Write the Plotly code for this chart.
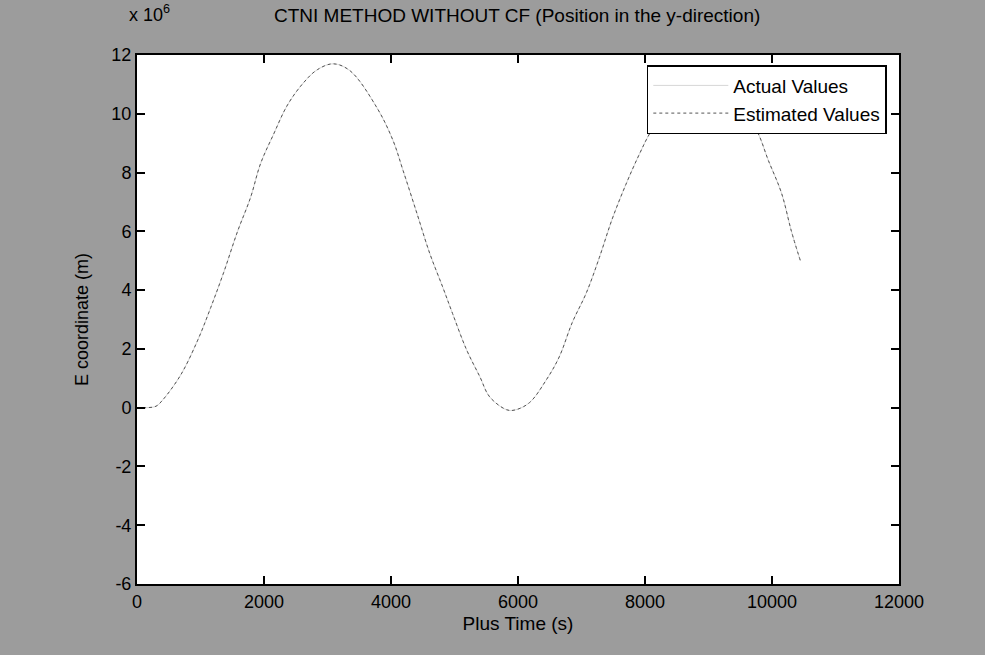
import plotly.graph_objects as go

# Data (x in s, y in units of 10^6 m)
time_s = [0, 150, 300, 408, 690, 957, 1160, 1365, 1584, 1788, 1945, 2150, 2370, 2620,
          2840, 3090, 3357, 3780, 4030, 4190, 4410, 4610, 4815, 4970, 5190, 5400,
          5553, 5820, 5950, 6180, 6447, 6650, 6855, 7075, 7280, 7480, 7700, 7906,
          8094, 8400, 8900, 9400, 9741, 9945, 10150, 10306, 10447]
e_actual = [0.0, 0.0, 0.05, 0.27, 1.12, 2.3, 3.4, 4.6, 6.0, 7.15, 8.3, 9.3, 10.3, 11.05,
            11.5, 11.7, 11.46, 10.2, 9.1, 8.07, 6.6, 5.25, 4.1, 3.2, 1.97, 1.05,
            0.37, -0.07, -0.08, 0.17, 0.95, 1.73, 2.9, 3.9, 5.1, 6.4, 7.6, 8.6,
            9.4, 10.3, 10.9, 10.4, 9.5, 8.4, 7.3, 6.0, 5.0]
e_estimated = list(e_actual)

x_ticks = [0, 2000, 4000, 6000, 8000, 10000, 12000]
x_ticktext = ["0", "2000", "4000", "6000", "8000", "10000", "12000"]
y_ticks = [-6, -4, -2, 0, 2, 4, 6, 8, 10, 12]
y_ticktext = ["-6", "-4", "-2", "0", "2", "4", "6", "8", "10", "12"]

FONT = "Liberation Sans, Arial, sans-serif"
BG = "#9c9c9c"

fig = go.Figure()
fig.add_trace(go.Scatter(
    x=time_s, y=e_actual, mode="lines", name="Actual Values",
    line=dict(color="#d6d6d6", width=1, shape="spline"),
))
fig.add_trace(go.Scatter(
    x=time_s, y=e_estimated, mode="lines", name="Estimated Values",
    line=dict(color="#555555", width=1, dash="dot", shape="spline"),
))

axis_common = dict(
    showline=True, linecolor="black", linewidth=2, mirror="ticks",
    ticks="inside", ticklen=8, tickwidth=1.5, tickcolor="black",
    showgrid=False, zeroline=False,
    tickfont=dict(family=FONT, size=18, color="black"),
)

fig.update_layout(
    width=985, height=655,
    margin=dict(l=137, r=86, t=55, b=71),
    paper_bgcolor=BG,
    plot_bgcolor="white",
    showlegend=True,
    title=dict(
        text="CTNI METHOD WITHOUT CF (Position in the y-direction)",
        x=0.525, xanchor="center", y=0.977, yanchor="middle",
        font=dict(family=FONT, size=19, color="black"),
    ),
    xaxis=dict(
        range=[0, 12000], tickvals=x_ticks, ticktext=x_ticktext,
        title=dict(text="Plus Time (s)", font=dict(family=FONT, size=19, color="black"), standoff=6),
        **axis_common,
    ),
    yaxis=dict(
        range=[-6, 12], tickvals=y_ticks, ticktext=y_ticktext,
        title=dict(text="E coordinate (m)", font=dict(family=FONT, size=18, color="black"), standoff=18),
        **axis_common,
    ),
    legend=dict(
        x=0.984, y=0.981, xanchor="right", yanchor="top",
        bgcolor="white", bordercolor="black", borderwidth=1.5,
        font=dict(family=FONT, size=19, color="black"),
        itemwidth=75, tracegroupgap=0,
    ),
    annotations=[
        dict(text="x 10<sup>6</sup>", x=0, y=1, xref="paper", yref="paper",
             xanchor="left", yanchor="bottom", yshift=28, xshift=-10, showarrow=False,
             font=dict(family=FONT, size=18, color="black")),
    ],
)

fig.write_html(
    "out.html",
    config={"displayModeBar": False},
    post_script=f"document.body.style.margin='0';document.body.style.background='{BG}';",
)
